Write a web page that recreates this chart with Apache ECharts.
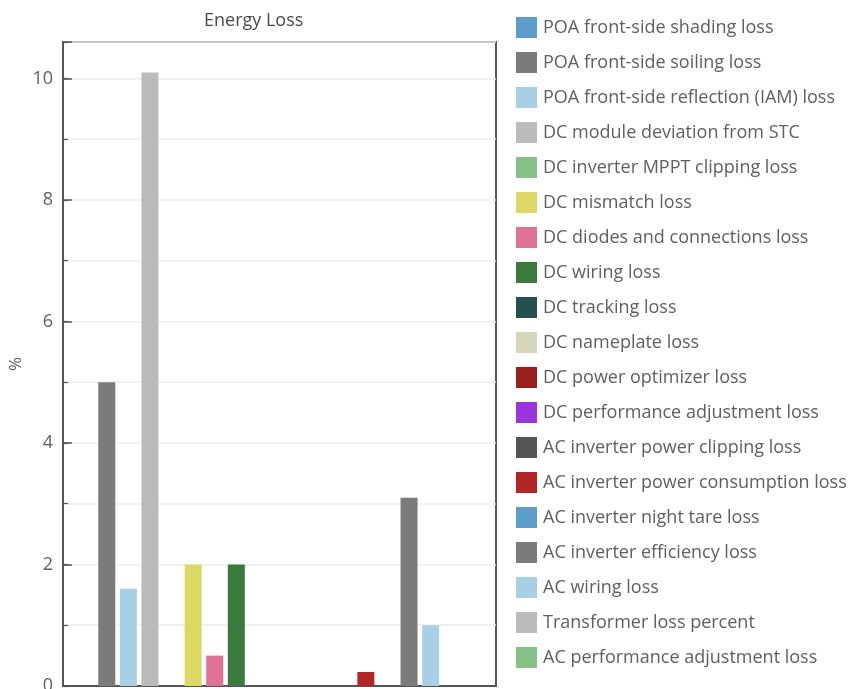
<!DOCTYPE html>
<html>
<head>
<meta charset="utf-8">
<title>Energy Loss</title>
<script src="https://cdn.jsdelivr.net/npm/echarts@6/dist/echarts.min.js"></script>
<style>
  html, body { margin: 0; padding: 0; background: #ffffff; }
  #chart { width: 856px; height: 689px; }
</style>
</head>
<body>
<div id="chart"></div>
<script>
// Loss categories (one bar each) and their values in percent
const lossNames = [
  'POA front-side shading loss',
  'POA front-side soiling loss',
  'POA front-side reflection (IAM) loss',
  'DC module deviation from STC',
  'DC inverter MPPT clipping loss',
  'DC mismatch loss',
  'DC diodes and connections loss',
  'DC wiring loss',
  'DC tracking loss',
  'DC nameplate loss',
  'DC power optimizer loss',
  'DC performance adjustment loss',
  'AC inverter power clipping loss',
  'AC inverter power consumption loss',
  'AC inverter night tare loss',
  'AC inverter efficiency loss',
  'AC wiring loss',
  'Transformer loss percent',
  'AC performance adjustment loss'
];

const lossValues = [
  0, 5.0, 1.6, 10.1, 0,
  2.0, 0.5, 2.0, 0, 0,
  0, 0, 0, 0.23, 0,
  3.1, 1.0, 0, 0
];

const lossColors = [
  '#5c9dc9', '#7b7b7b', '#a8d0e4', '#bbbbbb', '#86c18a',
  '#dcd866', '#e07197', '#3b7a3d', '#24504f', '#d6d6bd',
  '#9a2020', '#9a35dc', '#555555', '#b32626', '#5c9dc9',
  '#7b7b7b', '#a8d0e4', '#bbbbbb', '#86c18a'
];

const categoryLabels = ['Energy Loss'];
const yTickLabels = [0, 2, 4, 6, 8, 10];

const FONT = '"Open Sans", "Noto Sans", sans-serif';
const TEXT = '#5f5f5f';

const chart = echarts.init(document.getElementById('chart'), null, { renderer: 'canvas' });

const series = lossNames.map(function (name, i) {
  return {
    name: name,
    type: 'bar',
    barWidth: 17,
    barGap: '27%',
    itemStyle: { color: lossColors[i] },
    data: [lossValues[i]]
  };
});

chart.setOption({
  animation: false,
  backgroundColor: '#ffffff',
  graphic: [{
    type: 'text',
    left: 204,
    top: 12,
    style: {
      text: 'Energy Loss',
      font: '18px ' + FONT,
      fill: '#4a4a4a'
    }
  }],
  legend: {
    orient: 'vertical',
    left: 516,
    top: 17,
    padding: 0,
    icon: 'rect',
    itemWidth: 21,
    itemHeight: 21,
    itemGap: 14,
    textStyle: { fontFamily: FONT, fontSize: 18, color: TEXT, padding: [0, 0, 0, 1] },
    data: lossNames
  },
  grid: {
    left: 63,
    right: 360,
    top: 42,
    bottom: 3,
    show: true,
    borderColor: '#555555',
    borderWidth: 2,
    outerBoundsMode: 'none',
    containLabel: false
  },
  xAxis: {
    type: 'category',
    data: categoryLabels,
    axisLine: { show: true, lineStyle: { color: '#555555', width: 2 } },
    axisTick: { show: false },
    axisLabel: { show: false }
  },
  yAxis: [{
    type: 'value',
    min: 0,
    max: 10.6,
    interval: 2,
    name: '%',
    nameLocation: 'middle',
    nameGap: 38,
    nameMoveOverlap: false,
    nameTextStyle: { fontFamily: FONT, fontSize: 17, color: TEXT },
    axisLine: { show: true, lineStyle: { color: '#555555', width: 2 } },
    axisTick: { show: true, inside: true, length: 9, lineStyle: { color: '#555555', width: 1.5 } },
    axisLabel: {
      fontFamily: FONT,
      fontSize: 18,
      color: TEXT,
      margin: 10,
      formatter: function (v) {
        return yTickLabels.indexOf(v) >= 0 ? String(v) : '';
      }
    },
    splitLine: { show: false }
  }, {
    type: 'value',
    min: 0,
    max: 10.6,
    interval: 1,
    position: 'left',
    axisLine: { show: false },
    axisTick: { show: true, inside: true, length: 5, lineStyle: { color: '#555555', width: 1.2 } },
    axisLabel: { show: false },
    splitLine: { show: true, lineStyle: { color: '#eeeeee', width: 1.5 } }
  }],
  series: series
});
</script>
</body>
</html>
